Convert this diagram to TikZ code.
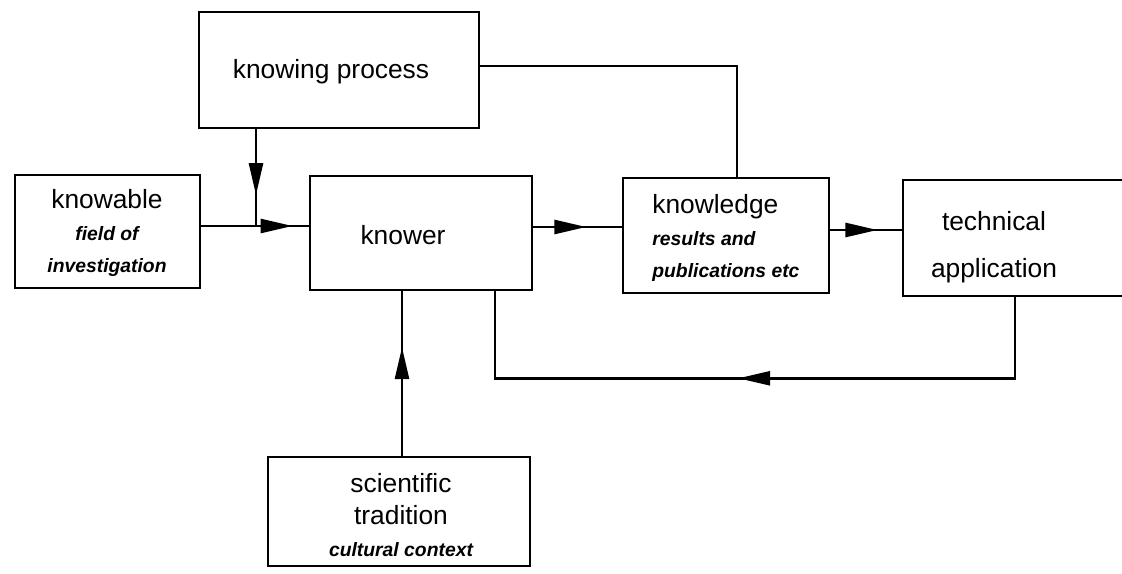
\documentclass[tikz,border=0pt]{standalone}
\usepackage{fontspec}
\setmainfont{Liberation Sans}
\usetikzlibrary{arrows.meta,decorations.markings}
\newcommand{\subtxt}[1]{{\fontsize{11}{18}\selectfont\bfseries\itshape #1}}
\tikzset{
  box/.style={draw,line width=1.5pt,inner sep=0pt},
  conn/.style={line width=1.5pt},
  tipat/.style={postaction={decorate},decoration={markings,
      mark=at position #1 with {\arrow{Triangle[length=6.4mm,width=2.8mm]}}}},
  main/.style={font=\fontsize{15}{18}\selectfont,align=center,inner sep=0pt},
}

\begin{document}
\begin{tikzpicture}[x=0.02cm,y=-0.02cm]
    \useasboundingbox (0,0) rectangle (1122,574);

    % boxes
    \node[box,minimum width=5.6cm,minimum height=2.32cm] (proc) at (339,70) {};
    \node[box,minimum width=3.7cm,minimum height=2.26cm] (knowable) at (107.5,231.5) {};
    \node[box,minimum width=4.44cm,minimum height=2.28cm] (knower) at (421,233) {};
    \node[box,minimum width=4.12cm,minimum height=2.3cm] (knowledge) at (726,235.5) {};
    \node[box,minimum width=4.74cm,minimum height=2.32cm] (tech) at (1021.5,238) {};
    \node[box,minimum width=5.24cm,minimum height=2.18cm] (trad) at (399,511.5) {};

    % texts
    \node[main] (proctxt) at (331,72) {knowing process};
    \node[main] (knowabletxt) at (107,233) {knowable\\\subtxt{field of}\\\subtxt{investigation}};
    \node[main] (knowertxt) at (403,235) {knower};
    \node[main,align=left,anchor=west] (knowledgetxt) at (652,238)
      {knowledge\\\subtxt{results and}\\\subtxt{publications etc}};
    \node[main] (techtxt) at (994,247) {technical\\[9pt]application};
    \node[main] (tradtxt) at (401,515) {scientific\\tradition\\\subtxt{cultural context}};

    % connectors
    \coordinate (join) at (256,226);
    \draw[conn,tipat=.85] (knowable.east |- join) -- (knower.west |- join);
    \draw[conn,tipat=.68] (proc.south -| join) -- (join);
    \draw[conn,tipat=.60] ([yshift=1.2mm]knower.east) -- ([yshift=1.2mm]knower.east -| knowledge.west);
    \draw[conn,tipat=.66] ([yshift=1.1mm]knowledge.east) -- ([yshift=1.1mm]knowledge.east -| tech.west);
    \draw[conn] ([yshift=.8mm]proc.east) -| ([xshift=2.2mm]knowledge.north);
    \draw[conn,tipat=.52] ([xshift=-1.3mm]tech.south) -- ++(0,81) -| ([xshift=14.8mm]knower.south);
    \draw[conn,tipat=.66] ([xshift=.6mm]trad.north) -- ([xshift=.6mm]trad.north |- knower.south);
\end{tikzpicture}
\end{document}
